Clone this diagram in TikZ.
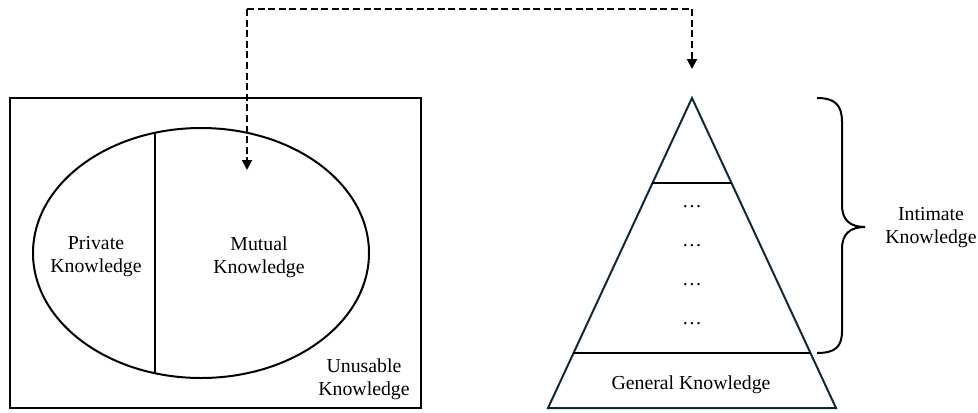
\documentclass[tikz,border=0pt]{standalone}
\usepackage{fontspec}
\setmainfont{Liberation Serif}
\usepackage{tikz}
\usetikzlibrary{arrows.meta,positioning,calc,shapes.geometric}
\definecolor{pyrnavy}{HTML}{0E2B3C}

\begin{document}
\begin{tikzpicture}[x=0.5pt,y=-0.5pt,>={Triangle[length=5pt,width=5pt]},line width=1pt,
  font=\fontsize{9.9}{11.5}\selectfont,
  lbl/.style={align=center,inner sep=0pt}]
  \useasboundingbox (0,0) rectangle (978,412);
  % left: knowledge box
  \draw[line width=1.2pt] (10,98) rectangle (421,408);
  \node[ellipse,draw,line width=1pt,minimum width=168pt,minimum height=125pt,inner sep=0pt] (circ) at (201,253) {};
  \draw (155,133) -- (155,373);
  \node[lbl] (private) at (96,257) {Private\\Knowledge};
  \node[lbl] (mutual) at (259,257) {Mutual\\Knowledge};
  \node[lbl] (unusable) at (364,379) {Unusable\\Knowledge};
  % right: pyramid
  \draw[pyrnavy] (692,98) -- (836,408) -- (548,408) -- cycle;
  \draw (652,183) -- (731,183);
  \draw (573,353) -- (811,353);
  \foreach \y in {207,246,285,324}
    \node[anchor=base,inner sep=0pt] at (692,\y) {…};
  \node[lbl] (general) at (691,385) {General Knowledge};
  % brace
  \draw (817,98) .. controls (835,98) and (842,105) .. (842,122) -- (842,205)
    .. controls (842,220) and (850,227) .. (865,227)
    .. controls (850,227) and (842,234) .. (842,249) -- (842,331)
    .. controls (842,347) and (835,353) .. (817,353);
  \node[lbl] (intimate) at (931,228) {Intimate\\Knowledge};
  % link
  \coordinate (mutend) at (247,170);
  \coordinate (apexend) at (692,69);
  \coordinate (bendl) at (247,9);
  \coordinate (bendr) at (692,9);
  \draw[->,dash pattern=on 3.5pt off 1.8pt] (bendl) -- (mutend);
  \draw[->,dash pattern=on 3.5pt off 1.8pt] (bendl) -- (bendr) -- (apexend);
\end{tikzpicture}
\end{document}
